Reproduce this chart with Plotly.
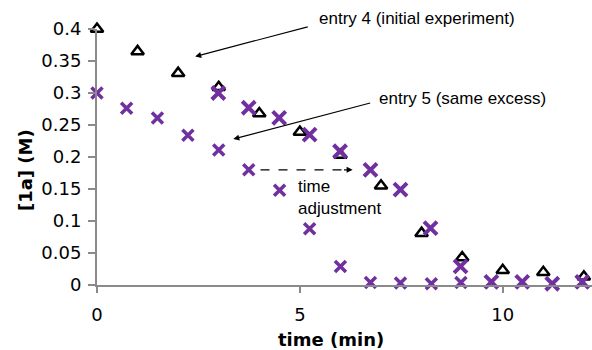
import plotly.graph_objects as go

# entry 4 (initial experiment): [1a] in M vs time in min
entry4_time = [0, 1, 2, 3, 4, 5, 6, 7, 8, 9, 10, 11, 12]
entry4_conc = [0.400, 0.365, 0.331, 0.309, 0.268, 0.239, 0.203, 0.155, 0.081, 0.043, 0.023, 0.020, 0.013]

# entry 5 (same excess), as measured
entry5_time = [0, 0.73, 1.49, 2.24, 3.00, 3.74, 4.50, 5.24, 6.00, 6.74, 7.48, 8.24, 8.97]
entry5_conc = [0.300, 0.276, 0.261, 0.234, 0.211, 0.180, 0.148, 0.088, 0.029, 0.004, 0.003, 0.002, 0.004]

# entry 5 after time adjustment
entry5_adj_time = [2.99, 3.74, 4.49, 5.24, 5.99, 6.74, 7.48, 8.22, 8.96, 9.72, 10.48, 11.22, 11.96]
entry5_adj_conc = [0.300, 0.277, 0.261, 0.235, 0.209, 0.180, 0.149, 0.089, 0.029, 0.005, 0.005, 0.002, 0.005]

y_tick_vals = [0, 0.05, 0.1, 0.15, 0.2, 0.25, 0.3, 0.35, 0.4]
y_tick_text = ["0", "0.05", "0.1", "0.15", "0.2", "0.25", "0.3", "0.35", "0.4"]
x_tick_vals = [0, 5, 10]
x_tick_text = ["0", "5", "10"]

X_MAX = 12.2
Y_MAX = 0.4

PURPLE = "#7030A0"
AXIS_GRAY = "#8a8a8a"
TICK_FONT = dict(family="DejaVu Sans", size=18, color="#000000")
NOTE_FONT = dict(family="Liberation Sans, Arial", size=17, color="#000000")

fig = go.Figure()

fig.add_trace(go.Scatter(
    x=entry4_time, y=entry4_conc, mode="markers", cliponaxis=False,
    marker=dict(symbol="triangle-up-open", size=11, color="#000000",
                line=dict(width=2.5, color="#000000")),
    showlegend=False,
))
fig.add_trace(go.Scatter(
    x=entry5_time, y=entry5_conc, mode="markers", cliponaxis=False,
    marker=dict(symbol="x-thin", size=11, color=PURPLE,
                line=dict(width=3.5, color=PURPLE)),
    showlegend=False,
))
fig.add_trace(go.Scatter(
    x=entry5_adj_time, y=entry5_adj_conc, mode="markers", cliponaxis=False,
    marker=dict(symbol="x-thin", size=13, color=PURPLE,
                line=dict(width=4, color=PURPLE)),
    showlegend=False,
))

annotations = [
    # labels with pointer arrows (the top label sits above the y range, so use paper coords)
    dict(x=5.43 / X_MAX, y=0.416 / Y_MAX, xref="paper", yref="paper",
         text="entry 4 (initial experiment)",
         showarrow=False, xanchor="left", yanchor="middle", font=NOTE_FONT),
    dict(x=2.42, y=0.357, xref="x", yref="y", ax=5.23, ay=0.404,
         axref="x", ayref="y", text="", showarrow=True,
         arrowhead=2, arrowsize=1, arrowwidth=1.2, arrowcolor="#000000", standoff=0),
    dict(x=6.9, y=0.291, xref="x", yref="y", text="entry 5 (same excess)",
         showarrow=False, xanchor="left", yanchor="middle", font=NOTE_FONT),
    dict(x=3.36, y=0.228, xref="x", yref="y", ax=6.77, ay=0.285,
         axref="x", ayref="y", text="", showarrow=True,
         arrowhead=2, arrowsize=1, arrowwidth=1.2, arrowcolor="#000000", standoff=0),
    # head of the dashed shift arrow
    dict(x=6.30, y=0.180, xref="x", yref="y", ax=6.05, ay=0.180,
         axref="x", ayref="y", text="", showarrow=True,
         arrowhead=2, arrowsize=1, arrowwidth=1.2, arrowcolor="#000000", standoff=0),
    dict(x=4.91, y=0.136, xref="x", yref="y", text="time<br>adjustment",
         showarrow=False, xanchor="left", yanchor="middle", align="left", font=NOTE_FONT),
    # axis titles
    dict(x=-0.1455, y=0.449, xref="paper", yref="paper", text="<b>[1a] (M)</b>",
         textangle=-90, showarrow=False, xanchor="center", yanchor="middle",
         font=dict(family="DejaVu Sans", size=18, color="#000000")),
    dict(x=0.4727, y=-0.211, xref="paper", yref="paper", text="<b>time (min)</b>",
         showarrow=False, xanchor="center", yanchor="middle",
         font=dict(family="DejaVu Sans", size=18, color="#000000")),
]

fig.add_shape(type="line", xref="x", yref="y", x0=4.03, y0=0.180, x1=6.2, y1=0.180,
              line=dict(color="#000000", width=1.2, dash="dash"))

fig.update_layout(
    width=592, height=350,
    margin=dict(l=97, r=0, t=29, b=65),
    paper_bgcolor="#ffffff", plot_bgcolor="#ffffff",
    annotations=annotations,
    xaxis=dict(range=[0, X_MAX], showgrid=False, zeroline=False,
               showline=True, linecolor=AXIS_GRAY, linewidth=2,
               ticks="outside", ticklen=6, tickwidth=2, tickcolor=AXIS_GRAY,
               tickvals=x_tick_vals, ticktext=x_tick_text, tickfont=TICK_FONT,
               ticklabelstandoff=6),
    yaxis=dict(range=[0, Y_MAX], showgrid=False, zeroline=False,
               showline=True, linecolor=AXIS_GRAY, linewidth=2,
               ticks="outside", ticklen=7, tickwidth=2, tickcolor=AXIS_GRAY,
               tickvals=y_tick_vals, ticktext=y_tick_text, tickfont=TICK_FONT,
               ticklabelstandoff=3),
)

fig.write_html("out.html")
